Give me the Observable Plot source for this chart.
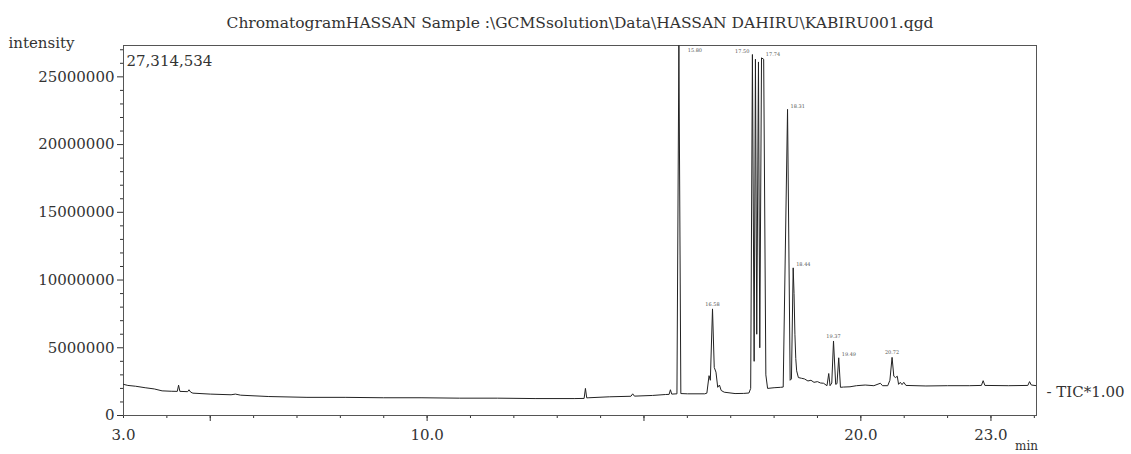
<!DOCTYPE html>
<html><head><meta charset="utf-8">
<script src="https://cdn.jsdelivr.net/npm/d3@7"></script>
<script src="https://cdn.jsdelivr.net/npm/@observablehq/plot@0.6"></script>
<style>body{margin:0;background:#fff;} svg{display:block}</style>
</head><body><div id="chart"></div>
<script>
const titleText = "ChromatogramHASSAN Sample :\\GCMSsolution\\Data\\HASSAN DAHIRU\\KABIRU001.qgd";
const yLabel = "intensity";
const xUnit = "min";
const traceLabel = "TIC*1.00";
const yMaxValue = 27314534;
const xDomain = [3.0, 24.05];
const xTickLabels = [3.0, 10.0, 20.0, 23.0];
const xMajorTicks = [5, 10, 15, 20, 23];
const xMinorTicks = [3,4,5,6,7,8,9,10,11,12,13,14,15,16,17,18,19,20,21,22,23,24];
const yTickLabels = [0, 5000000, 10000000, 15000000, 20000000, 25000000];
const yMinorTicks = [1,2,3,4,6,7,8,9,11,12,13,14,16,17,18,19,21,22,23,24,26,27].map(d => d * 1e6);

// retention time (min)
const time = [3.00,3.10,3.28,3.50,3.71,3.89,4.10,4.24,4.27,4.30,4.48,4.51,4.55,4.60,5.00,5.48,5.58,5.70,6.35,7.23,8.11,8.99,9.86,10.75,11.62,12.49,13.39,13.62,13.65,13.68,13.73,14.20,14.70,14.74,14.78,15.20,15.50,15.58,15.61,15.64,15.76,15.805,15.85,16.00,16.40,16.45,16.50,16.53,16.58,16.62,16.66,16.70,16.74,16.78,16.85,17.10,17.30,17.42,17.46,17.50,17.54,17.57,17.60,17.64,17.67,17.71,17.76,17.81,17.85,18.00,18.15,18.21,18.31,18.37,18.40,18.44,18.46,18.48,18.50,18.52,18.56,18.63,18.70,18.78,18.85,18.92,19.00,19.07,19.14,19.22,19.26,19.29,19.33,19.37,19.42,19.45,19.49,19.53,19.60,19.75,19.90,20.10,20.30,20.45,20.50,20.62,20.67,20.72,20.76,20.80,20.84,20.87,20.91,20.95,20.99,21.04,21.50,22.00,22.50,22.78,22.82,22.86,23.40,23.85,23.89,23.93,24.05];
// intensity (millions of counts)
const intensityM = [2.30,2.22,2.16,2.05,1.96,1.82,1.79,1.78,2.24,1.78,1.76,1.90,1.72,1.65,1.58,1.53,1.58,1.50,1.40,1.34,1.34,1.31,1.31,1.28,1.28,1.25,1.25,1.26,2.00,1.30,1.31,1.38,1.42,1.60,1.43,1.48,1.55,1.56,1.90,1.58,1.60,27.314534,1.62,1.60,1.60,1.65,2.94,2.60,7.87,3.55,3.20,2.08,2.25,1.85,1.72,1.62,1.63,1.66,2.00,26.65,4.0,26.3,6.0,26.1,5.0,26.4,26.3,3.0,2.00,2.05,2.08,2.10,22.6,2.60,2.70,10.9,9.0,6.0,4.2,3.3,2.8,2.75,2.70,2.55,2.60,2.45,2.50,2.40,2.38,2.20,3.10,2.20,2.40,5.50,2.30,2.35,4.26,2.08,2.10,2.12,2.20,2.25,2.20,2.38,2.20,2.20,2.60,4.29,2.90,2.80,2.90,2.30,2.45,2.28,2.45,2.22,2.18,2.20,2.20,2.22,2.57,2.22,2.20,2.22,2.50,2.25,2.20];

// peak labels (retention times); side: -1 left, 0 above, 1 right
const peakTimes = [16.58, 17.50, 17.74, 18.31, 18.44, 19.37, 19.49, 20.72];
const peakHeightsM = [7.87, 26.65, 26.4, 22.6, 10.9, 5.50, 4.26, 4.29];
const peakSide = [0, -1, 1, 1, 1, 0, 1, 0];
const firstPeakTime = 15.805;

const data = time.map((t, i) => ({t, v: intensityM[i] * 1e6}));
const peaks = peakTimes.map((t, i) => ({t, v: peakHeightsM[i] * 1e6, label: t.toFixed(2), side: peakSide[i]}));
const last = data[data.length - 1];
const lab = {x: "t", y: "v", text: "label", fontSize: 5, fill: "#555"};

const chart = Plot.plot({
  width: 1131, height: 454,
  marginTop: 45, marginBottom: 39, marginLeft: 123, marginRight: 95,
  style: {fontFamily: "'DejaVu Serif', serif", fontSize: "15px", color: "#333", background: "#fff"},
  x: {domain: xDomain, axis: null},
  y: {domain: [0, yMaxValue], axis: null},
  marks: [
    Plot.axisY(yTickLabels, {label: null, tickSize: 6, tickPadding: 3, tickFormat: d => String(d), fontSize: 15}),
    Plot.axisY(yMinorTicks, {label: null, tickSize: 3, tickFormat: () => ""}),
    Plot.axisX(xMinorTicks, {label: null, tickSize: 3, tickFormat: () => ""}),
    Plot.axisX(xMajorTicks, {label: null, tickSize: 6, tickFormat: () => ""}),
    Plot.axisX(xTickLabels, {label: null, tickSize: 0, tickPadding: 14, tickFormat: d => d.toFixed(1), fontSize: 15}),
    Plot.frame({stroke: "#555"}),
    Plot.line(data, {x: "t", y: "v", stroke: "#222", strokeWidth: 1, clip: true}),
    Plot.text(peaks, {...lab, filter: d => d.side === 0, dy: -5}),
    Plot.text(peaks, {...lab, filter: d => d.side === -1, dy: -3, dx: -3, textAnchor: "end"}),
    Plot.text(peaks, {...lab, filter: d => d.side === 1, dy: -3, dx: 3, textAnchor: "start"}),
    Plot.text([firstPeakTime], {x: d => d, frameAnchor: "top", text: d => d.toFixed(2), dx: 16, dy: 3, fontSize: 5, fill: "#555"}),
    Plot.text([titleText], {text: d => d, frameAnchor: "top", dy: -29, fontSize: 15.5}),
    Plot.text([yLabel], {text: d => d, frameAnchor: "top-left", dx: -115, dy: -8, textAnchor: "start", fontSize: 15}),
    Plot.text([yMaxValue], {text: d => d3.format(",")(d), frameAnchor: "top-left", dx: 3, dy: 10, textAnchor: "start", fontSize: 15}),
    Plot.text([xUnit], {text: d => d, frameAnchor: "bottom-right", dx: -10, dy: 34, textAnchor: "middle", fontSize: 12}),
    Plot.text([last], {x: "t", y: "v", text: () => "- " + traceLabel, dx: 10, dy: 6, textAnchor: "start", fontSize: 15})
  ]
});
document.getElementById("chart").appendChild(chart);
</script>
</body></html>
